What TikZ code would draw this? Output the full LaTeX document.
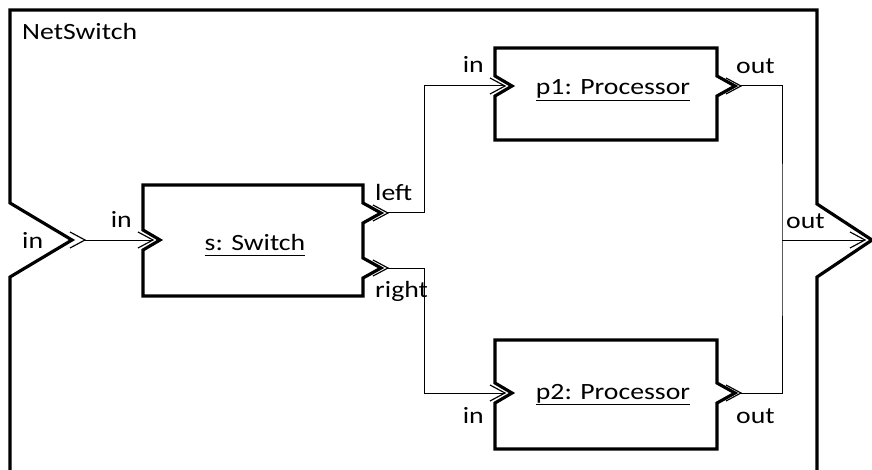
\documentclass[tikz,border=0pt]{standalone}
\usepackage{fontspec}
\setmainfont{Carlito}[FakeStretch=1.19]
\newcommand{\partlabel}[1]{\underline{\vphantom{p}#1}}

\begin{document}
\begin{tikzpicture}[x=0.3mm, y=-0.3mm,
    outline/.style={line width=0.95mm, line join=miter},
    wire/.style={line width=0.3mm},
    label/.style={font=\fontsize{19.9}{24}\selectfont, inner sep=0pt},
    chev/.pic={\draw[line width=0.35mm] (-15,-8) -- (0,0) -- (-15,8);}]

  % Fix the size of the page
  \clip (0,0) rectangle (872,470);

  % Draw the NetSwitch frame
  \draw[outline] (10,480) -- (10,277) -- (72,240) -- (10,203) -- (10,10)
    -- (817,10) -- (817,204) -- (872,240) -- (817,277) -- (817,480);
  \node[label, anchor=base west] (ns title) at (22,40) {NetSwitch};

  % Draw the switch
  \draw[outline] (143,185) -- (363,185) -- (363,203) -- (381,213) -- (363,223)
    -- (363,258) -- (381,268) -- (363,278) -- (363,296) -- (143,296)
    -- (143,250) -- (160,240) -- (143,230) -- cycle;
  \node[label, anchor=base] (s name) at (255,250) {\partlabel{s: Switch}};

  % Draw the processors
  \draw[outline] (495,48) -- (717,48) -- (717,76) -- (735,86) -- (717,96)
    -- (717,140) -- (495,140) -- (495,96) -- (512,86) -- (495,76) -- cycle;
  \node[label, anchor=base] (p1 name) at (613,95) {\partlabel{p1: Processor}};

  \draw[outline] (495,340) -- (717,340) -- (717,383) -- (735,393) -- (717,403)
    -- (717,449) -- (495,449) -- (495,403) -- (512,393) -- (495,383) -- cycle;
  \node[label, anchor=base] (p2 name) at (613,399) {\partlabel{p2: Processor}};

  % Port points
  \coordinate (ns in) at (85,240);
  \coordinate (ns out) at (865,240);
  \coordinate (s in) at (153,240);
  \coordinate (s left) at (388,213);
  \coordinate (s right) at (388,268);
  \coordinate (p1 in) at (505,86);
  \coordinate (p1 out) at (741,86);
  \coordinate (p2 in) at (505,393);
  \coordinate (p2 out) at (741,393);
  \coordinate (join) at (782,240);

  % Port marks
  \foreach \p in {ns in, ns out, s in, s left, s right, p1 in, p1 out, p2 in, p2 out}
    \pic at (\p) {chev};

  % Port labels
  \node[label, anchor=base west] (ns in lbl) at (22,249) {in};
  \node[label, anchor=base east] (s in lbl) at (132,227) {in};
  \node[label, anchor=base west] (s left lbl) at (375,200) {left};
  \node[label, anchor=base west] (s right lbl) at (375,297) {right};
  \node[label, anchor=base east] (p1 in lbl) at (484,73) {in};
  \node[label, anchor=base west] (p1 out lbl) at (736,74) {out};
  \node[label, anchor=base east] (p2 in lbl) at (484,423) {in};
  \node[label, anchor=base west] (p2 out lbl) at (736,423) {out};
  \node[label, anchor=base west] (ns out lbl) at (786,228) {out};

  % Draw the connectors
  \draw[wire] (ns in) -- (s in);
  \draw[wire] (s left) -- ++(36,0) |- (p1 in);
  \draw[wire] (s right) -- ++(36,0) |- (p2 in);
  \draw[wire] (p1 out) -| (join) |- (p2 out);
  \draw[wire] (join) -- (ns out);

\end{tikzpicture}
\end{document}
